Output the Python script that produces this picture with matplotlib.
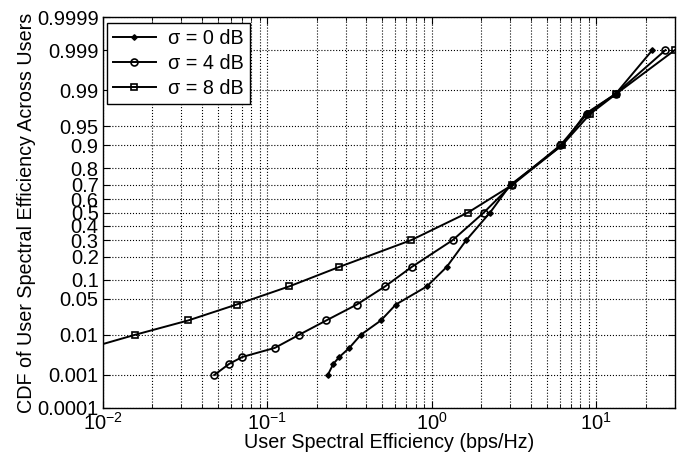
#!/usr/bin/env python3
"""
CDF of user spectral efficiency for three shadowing levels,
normal-probability y axis against log x axis (MATLAB-style look).

Outputs: out.png
"""

from statistics import NormalDist

import numpy as np
import matplotlib
matplotlib.use("Agg")
import matplotlib.pyplot as plt
from matplotlib.ticker import LogLocator, NullFormatter

# Data (x in bps/Hz, y = CDF)
se_0db = [0.233, 0.252, 0.274, 0.315, 0.37, 0.49, 0.604, 0.933, 1.23, 1.62,
          2.26, 3.0, 6.2, 8.6, 13.1, 21.9]
cdf_0db = [0.001, 0.002, 0.003, 0.005, 0.01, 0.02, 0.04, 0.08, 0.15, 0.3,
           0.5, 0.7, 0.9, 0.97, 0.988, 0.999]

se_4db = [0.0476, 0.0587, 0.0705, 0.111, 0.156, 0.228, 0.35, 0.52, 0.754,
          1.34, 2.07, 3.05, 6.05, 8.8, 13.1, 26.3]
cdf_4db = [0.001, 0.002, 0.003, 0.005, 0.01, 0.02, 0.04, 0.08, 0.15, 0.3,
           0.5, 0.7, 0.9, 0.97, 0.988, 0.999]

se_8db = [0.0083, 0.0157, 0.033, 0.065, 0.136, 0.273, 0.75, 1.66, 3.08,
          6.19, 9.2, 13.2, 30.0]
cdf_8db = [0.005, 0.01, 0.02, 0.04, 0.08, 0.15, 0.3, 0.5, 0.7, 0.9, 0.97,
           0.988, 0.999]

y_ticks = [0.0001, 0.001, 0.01, 0.05, 0.1, 0.2, 0.3, 0.4, 0.5, 0.6, 0.7,
           0.8, 0.9, 0.95, 0.99, 0.999, 0.9999]
y_tick_labels = ["0.0001", "0.001", "0.01", "0.05", "0.1", "0.2", "0.3",
                 "0.4", "0.5", "0.6", "0.7", "0.8", "0.9", "0.95", "0.99",
                 "0.999", "0.9999"]

_nd = NormalDist()
_ppf = np.vectorize(lambda p: _nd.inv_cdf(min(max(p, 1e-12), 1 - 1e-12)),
                    otypes=[float])
_cdf = np.vectorize(_nd.cdf, otypes=[float])


def probit(p):
    return _ppf(np.asarray(p, dtype=float))


def probit_inv(z):
    return _cdf(np.asarray(z, dtype=float))


def main():
    plt.rcParams["font.family"] = ["Liberation Sans", "DejaVu Sans"]
    plt.rcParams["mathtext.fontset"] = "custom"
    plt.rcParams["mathtext.rm"] = "Liberation Sans"
    plt.rcParams["mathtext.it"] = "Liberation Sans:italic"
    fs_tick = 14.5
    fs_label = 14.2

    fig = plt.figure(figsize=(6.81, 4.55), dpi=100, facecolor="white")
    ax = fig.add_axes([0.151, 0.1033, 0.84, 0.8593])

    ax.set_xscale("log")
    ax.set_yscale("function", functions=(probit, probit_inv))

    ax.plot(se_0db, cdf_0db, color="black", linewidth=1.4, marker="D",
            markersize=2.8, markerfacecolor="black", label="σ = 0 dB")
    ax.plot(se_4db, cdf_4db, color="black", linewidth=1.4, marker="o",
            markersize=5, markerfacecolor="none", markeredgewidth=1.2,
            label="σ = 4 dB")
    ax.plot(se_8db, cdf_8db, color="black", linewidth=1.4, marker="s",
            markersize=5, markerfacecolor="none", markeredgewidth=1.2,
            label="σ = 8 dB")

    ax.set_xlim(0.01, 30)
    ax.set_ylim(0.0001, 0.9999)

    ax.set_yticks(y_ticks)
    ax.set_yticklabels(y_tick_labels)
    ax.yaxis.set_minor_locator(plt.NullLocator())
    ax.xaxis.set_major_locator(LogLocator(base=10))
    ax.xaxis.set_minor_locator(LogLocator(base=10, subs=np.arange(2, 10)))
    ax.xaxis.set_minor_formatter(NullFormatter())

    ax.tick_params(which="both", direction="in", top=True, right=True,
                   labelsize=fs_tick, pad=3)
    ax.tick_params(which="major", length=5)
    ax.tick_params(which="minor", length=3)

    ax.grid(True, which="major", color="black", linestyle=":", linewidth=0.8)
    ax.grid(True, which="minor", axis="x", color="black", linestyle=":",
            linewidth=0.8)
    ax.set_axisbelow(True)

    for sp in ax.spines.values():
        sp.set_linewidth(1.0)
        sp.set_color("black")

    ax.set_xlabel("User Spectral Efficiency (bps/Hz)", fontsize=fs_label,
                  labelpad=-1)
    ax.set_ylabel("CDF of User Spectral Efficiency Across Users",
                  fontsize=fs_label, labelpad=1)

    leg = ax.legend(loc="upper left", bbox_to_anchor=(0.007, 0.985),
                    fontsize=fs_label, frameon=True, fancybox=False,
                    framealpha=1, edgecolor="black", handlelength=2.2,
                    borderpad=0.3, labelspacing=0.3, handletextpad=0.6,
                    borderaxespad=0.0)
    leg.get_frame().set_linewidth(1.0)

    fig.savefig("out.png", dpi=100, facecolor="white")
    plt.close(fig)


if __name__ == "__main__":
    main()
